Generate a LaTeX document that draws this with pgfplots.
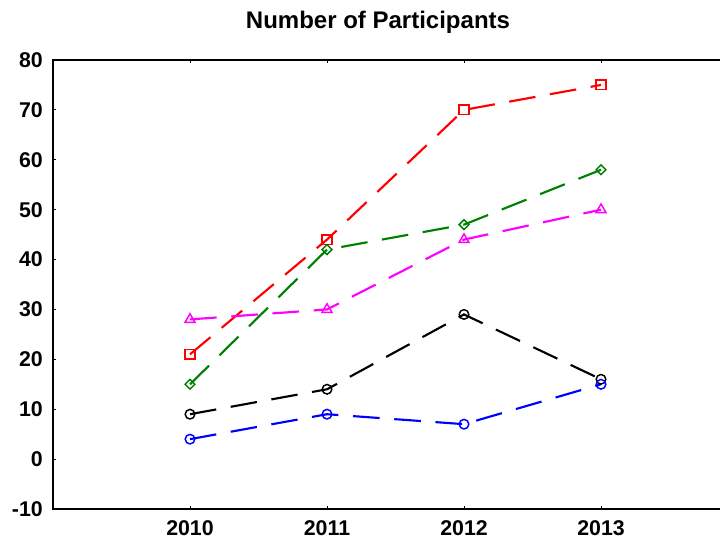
\documentclass[border=0pt]{standalone}
\usepackage{fontspec}
\setmainfont{Liberation Sans}
\usepackage{pgfplots}
\pgfplotsset{compat=1.18}
\definecolor{mgreen}{RGB}{0,128,0}
\definecolor{mred}{RGB}{255,0,0}
\definecolor{mmag}{RGB}{255,0,255}
\definecolor{mblue}{RGB}{0,0,255}
\begin{document}
\begin{tikzpicture}
\begin{axis}[
 name=ax, at={(0,0)}, anchor=south west,
 scale only axis, width=513.75pt, height=336.75pt,
 xmin=2009, xmax=2014, ymin=-10, ymax=80,
 xtick={2010,2011,2012,2013}, xticklabels={2010,2011,2012,2013},
 ytick={-10,0,10,20,30,40,50,60,70,80},
 yticklabels={-10,0,10,20,30,40,50,60,70,80},
 tick align=inside, major tick length=2.5pt,
 axis line style={line width=1pt},
 tick style={line width=0.6pt, black},
 ticklabel style={font=\bfseries\fontsize{16}{16}\selectfont},
 yticklabel style={inner sep=0pt, xshift=-7.5pt},
 xticklabel style={inner sep=0pt, yshift=-8.25pt},
 every axis plot/.append style={line width=1.6pt, dash pattern=on 20pt off 11pt},
]
\addplot[mred, mark=square, mark size=3.6pt, mark options={solid, fill=white, line width=1.1pt}]
 coordinates {(2010,21) (2011,44) (2012,70) (2013,75)};
\addplot[mgreen, mark=square, mark size=2.6pt, mark options={solid, rotate=45, fill=white, line width=1.1pt}]
 coordinates {(2010,15) (2011,42) (2012,47) (2013,58)};
\addplot[mmag, mark=triangle, mark size=4.3pt, mark options={solid, fill=white, line width=1.1pt}]
 coordinates {(2010,28) (2011,30) (2012,44) (2013,50)};
\addplot[black, mark=o, mark size=3.6pt, mark options={solid, fill=white, line width=1.1pt}]
 coordinates {(2010,9) (2011,14) (2012,29) (2013,16)};
\addplot[mblue, mark=o, mark size=3.6pt, mark options={solid, fill=white, line width=1.1pt}]
 coordinates {(2010,4) (2011,9) (2012,7) (2013,15)};
\end{axis}
\node[font=\bfseries\fontsize{18}{18}\selectfont] at (243.75pt,365.25pt) {Number of Participants};
\pgfresetboundingbox
\path (-39.75pt,-24.75pt) rectangle (500.25pt,381.75pt);
\end{tikzpicture}
\end{document}
